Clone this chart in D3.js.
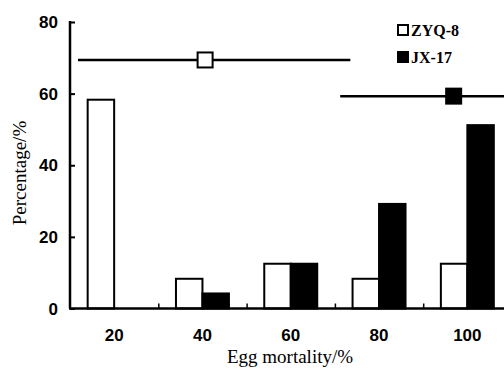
<!DOCTYPE html>
<html>
<head>
<meta charset="utf-8">
<script src="https://cdn.jsdelivr.net/npm/d3@7"></script>
<style>
  body { margin: 0; background: #fff; }
  svg { display: block; }
  .tick-label { font-family: "Liberation Sans", Arial, sans-serif; font-weight: bold; font-size: 17px; }
  .title { font-family: "Liberation Serif", "Times New Roman", serif; font-size: 19px; }
  .legend { font-family: "Liberation Serif", "Times New Roman", serif; font-weight: bold; font-size: 16px; }
</style>
</head>
<body>
<svg id="chart" width="504" height="369"></svg>
<script>
// egg mortality classes (%)
var categories = ["20", "40", "60", "80", "100"];
var seriesNames = ["ZYQ-8", "JX-17"];
// percentage of females in each class
var zyq8 = [58.3, 8.3, 12.5, 8.3, 12.5];
var jx17 = [0, 4.2, 12.5, 29.2, 51.2];
// mean mortality (square) with its range (line), drawn at a fixed height
var meanMortality = [40.6, 96.9];
var rangeLow = [11.8, 71.2];
var rangeHigh = [73.5, 112];
var rangeLevel = [69.4, 59.3];
var yTicks = [0, 20, 40, 60, 80];
var minorTicks = [30, 50, 70, 90];

var svg = d3.select("#chart");
var margin = { left: 70, top: 22, bottom: 60 };
var plotRight = 511.5;

var x = d3.scaleBand().domain(categories).range([margin.left, plotRight]).padding(0);
var xSub = d3.scaleBand().domain(seriesNames).range([0, x.bandwidth()]).paddingInner(0).paddingOuter(0.667);
var xLin = d3.scaleLinear().domain([10, 110]).range([margin.left, plotRight]);
var y = d3.scaleLinear().domain([0, 80]).range([308.5, margin.top]);

var rows = categories.map(function (c, i) {
    return { cat: c, values: [zyq8[i], jx17[i]] };
});

// bars
var groups = svg.append("g").selectAll("g")
    .data(rows)
    .enter().append("g")
    .attr("transform", function (d) { return "translate(" + x(d.cat) + ",0)"; });

groups.selectAll("rect")
    .data(function (d) { return d.values.map(function (v, j) { return { name: seriesNames[j], value: v }; }); })
    .enter().filter(function (d) { return d.value > 0; })
    .append("rect")
    .attr("x", function (d) { return xSub(d.name); })
    .attr("y", function (d) { return y(d.value); })
    .attr("width", xSub.bandwidth())
    .attr("height", function (d) { return y(0) - y(d.value); })
    .attr("fill", function (d) { return d.name === "ZYQ-8" ? "#fff" : "#000"; })
    .attr("stroke", "#000")
    .attr("stroke-width", 2);

// axes
var yAxis = d3.axisLeft(y).tickValues(yTicks).tickSize(-5).tickFormat("");
var gy = svg.append("g").attr("transform", "translate(" + margin.left + ",0)").call(yAxis);
gy.select(".domain").attr("stroke-width", 2.5).attr("d", "M0," + y(0) + "V" + (margin.top - 1));
gy.selectAll(".tick line").attr("stroke-width", 2);

var xAxis = d3.axisBottom(xLin).tickValues(minorTicks).tickSize(-5).tickFormat("");
var gx = svg.append("g").attr("transform", "translate(0," + y(0) + ")").call(xAxis);
gx.select(".domain").attr("stroke-width", 2.5).attr("d", "M" + (margin.left - 1) + ",0H" + plotRight);
gx.selectAll(".tick line").attr("stroke-width", 1.5);

svg.append("g").selectAll("text")
    .data(yTicks)
    .enter().append("text")
    .attr("class", "tick-label")
    .attr("x", 58)
    .attr("y", function (d) { return y(d); })
    .attr("dy", "0.36em")
    .attr("text-anchor", "end")
    .text(function (d) { return d; });

svg.append("g").selectAll("text")
    .data(categories)
    .enter().append("text")
    .attr("class", "tick-label")
    .attr("x", function (d) { return x(d) + x.bandwidth() / 2; })
    .attr("y", 340.5)
    .attr("text-anchor", "middle")
    .text(function (d) { return d; });

svg.append("text")
    .attr("class", "title")
    .attr("x", 290)
    .attr("y", 363)
    .attr("text-anchor", "middle")
    .text("Egg mortality/%");

svg.append("text")
    .attr("class", "title")
    .attr("transform", "translate(26,173) rotate(-90)")
    .attr("text-anchor", "middle")
    .text("Percentage/%");

// mean lines with square markers
seriesNames.forEach(function (name, i) {
    svg.append("line")
        .attr("x1", xLin(rangeLow[i]))
        .attr("x2", xLin(rangeHigh[i]))
        .attr("y1", y(rangeLevel[i]))
        .attr("y2", y(rangeLevel[i]))
        .attr("stroke", "#000")
        .attr("stroke-width", 2.5);
    svg.append("rect")
        .attr("x", xLin(meanMortality[i]) - 7.5)
        .attr("y", y(rangeLevel[i]) - 7.5)
        .attr("width", 15)
        .attr("height", 15)
        .attr("fill", i === 0 ? "#fff" : "#000")
        .attr("stroke", "#000")
        .attr("stroke-width", 2);
});

// legend
var legend = svg.append("g").selectAll("g")
    .data(seriesNames)
    .enter().append("g")
    .attr("transform", function (d, i) { return "translate(397," + (24 + i * 27) + ")"; });

legend.append("rect")
    .attr("x", 1).attr("y", 1)
    .attr("width", 10).attr("height", 10)
    .attr("fill", function (d, i) { return i === 0 ? "#fff" : "#000"; })
    .attr("stroke", "#000")
    .attr("stroke-width", 2);

legend.append("text")
    .attr("class", "legend")
    .attr("x", 14)
    .attr("y", 12)
    .text(function (d) { return d; });
</script>
</body>
</html>
